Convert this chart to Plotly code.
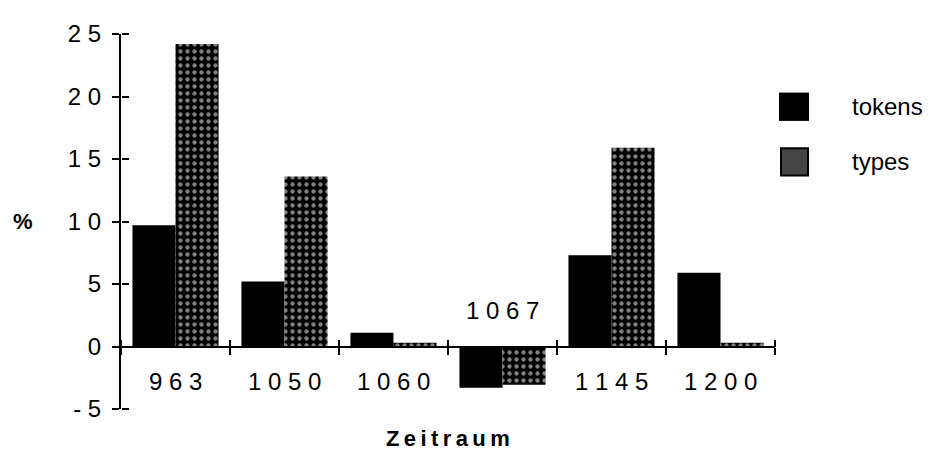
import plotly.graph_objects as go

# ---- data ----
periods = ["963", "1050", "1060", "1067", "1145", "1200"]
period_labels = ["9 6 3", "1 0 5 0", "1 0 6 0", "1 0 6 7", "1 1 4 5", "1 2 0 0"]
tokens = [9.7, 5.2, 1.1, -3.3, 7.3, 5.9]
types = [24.2, 13.6, 0.3, -3.05, 15.9, 0.3]
y_tickvals = [-5, 0, 5, 10, 15, 20, 25]
y_ticktext = ["- 5", "0", "5", "1 0", "1 5", "2 0", "2 5"]
series_names = ["tokens", "types"]

FONT = "Liberation Sans, Arial, sans-serif"
Y_MIN, Y_MAX = -5, 25

fig = go.Figure()
fig.add_trace(go.Bar(
    x=periods, y=tokens, name=series_names[0],
    marker=dict(color="black", line=dict(width=0)),
    showlegend=False, hoverinfo="skip",
))
fig.add_trace(go.Bar(
    x=periods, y=types, name=series_names[1],
    marker=dict(color="black", line=dict(width=0),
                pattern=dict(shape=".", bgcolor="black", fgcolor="white",
                             size=7, solidity=0.3)),
    showlegend=False, hoverinfo="skip",
))
# helper (invisible) traces creating overlay axes used for the crossing tick marks
fig.add_trace(go.Scatter(x=periods, y=tokens, xaxis="x2", yaxis="y",
                         mode="markers", marker=dict(opacity=0, size=1),
                         showlegend=False, hoverinfo="skip"))
fig.add_trace(go.Scatter(x=periods, y=tokens, xaxis="x", yaxis="y2",
                         mode="markers", marker=dict(opacity=0, size=1),
                         showlegend=False, hoverinfo="skip"))

zero_frac = (0 - Y_MIN) / (Y_MAX - Y_MIN)
tick_style = dict(ticklen=7, tickwidth=2, tickcolor="black")

fig.update_layout(
    width=935, height=452,
    margin=dict(l=113, r=168, t=17, b=51),
    paper_bgcolor="white", plot_bgcolor="white",
    barmode="group", bargap=0.21, bargroupgap=0,
    font=dict(family=FONT, size=24, color="black"),
    xaxis=dict(
        type="category", categoryarray=periods, range=[-0.5, 5.5],
        anchor="free", position=zero_frac,
        showline=True, linecolor="black", linewidth=2,
        ticks="outside", tickson="boundaries", **tick_style,
        showticklabels=False, showgrid=False, zeroline=False,
    ),
    xaxis2=dict(
        type="category", categoryarray=periods, range=[-0.5, 5.5],
        overlaying="x", anchor="free", position=zero_frac, side="top",
        showline=False,
        ticks="outside", tickson="boundaries", **tick_style,
        showticklabels=False, showgrid=False, zeroline=False,
    ),
    yaxis=dict(
        range=[Y_MIN, Y_MAX], tickvals=y_tickvals, ticktext=y_ticktext,
        showline=True, linecolor="black", linewidth=2,
        ticks="outside", **tick_style,
        ticklabelstandoff=6,
        tickfont=dict(family=FONT, size=24),
        showgrid=False, zeroline=False,
    ),
    yaxis2=dict(
        range=[Y_MIN, Y_MAX], tickvals=y_tickvals, overlaying="y",
        anchor="free", position=0, side="right",
        showline=False,
        ticks="outside", **tick_style,
        showticklabels=False, showgrid=False, zeroline=False,
    ),
)

# category labels (1067 sits above the axis because its bars are negative)
for i, (lab, t, ty) in enumerate(zip(period_labels, tokens, types)):
    neg = min(t, ty) < 0
    fig.add_annotation(x=i, y=0, xref="x", yref="y", text=lab, showarrow=False,
                       yanchor="middle", yshift=36 if neg else -35,
                       font=dict(family=FONT, size=24))

# axis titles
fig.add_annotation(x=-0.15, y=0.5, xref="paper", yref="paper", text="<b>%</b>",
                   showarrow=False, xanchor="center", yanchor="middle",
                   font=dict(family=FONT, size=22))
fig.add_annotation(x=0.5, y=0, xref="paper", yref="paper",
                   text="<b>Z\u2009e\u2009i\u2009t\u2009r\u2009a\u2009u\u2009m</b>",
                   showarrow=False, xanchor="center", yanchor="top", yshift=-15,
                   font=dict(family=FONT, size=22))

# legend (drawn manually to get the large square keys)
W, H = 654.0, 384.0
def px_x(px):
    return (px - 121) / W
def px_y(py):
    return (409 - py) / H

fig.add_shape(type="rect", xref="paper", yref="paper",
              x0=px_x(779), x1=px_x(809), y0=px_y(114), y1=px_y(85),
              fillcolor="black", line=dict(width=0))
fig.add_shape(type="rect", xref="paper", yref="paper",
              x0=px_x(781), x1=px_x(808), y0=px_y(170), y1=px_y(142),
              fillcolor="#444444", line=dict(color="black", width=2))
fig.add_annotation(x=px_x(850), y=px_y(99), xref="paper", yref="paper",
                   text=series_names[0], showarrow=False, xanchor="left", yanchor="middle",
                   font=dict(family=FONT, size=24))
fig.add_annotation(x=px_x(850), y=px_y(156), xref="paper", yref="paper",
                   text=series_names[1], showarrow=False, xanchor="left", yanchor="middle",
                   font=dict(family=FONT, size=24))

fig.write_html("out.html")
